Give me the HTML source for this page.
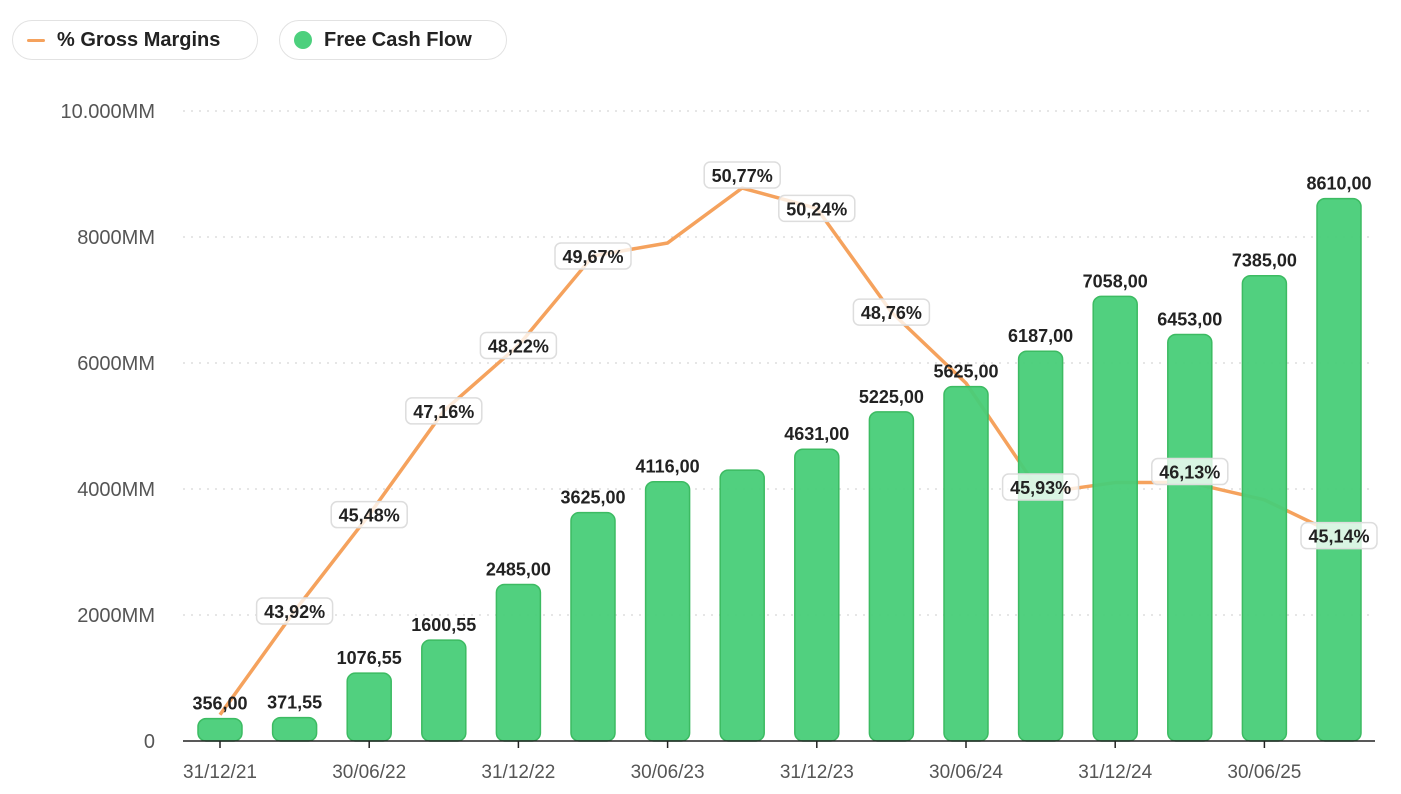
<!DOCTYPE html>
<html><head><meta charset="utf-8"><style>
body{margin:0;background:#fff;font-family:"Liberation Sans",Arial,sans-serif}
svg{display:block}
.legend{position:absolute;top:20px;height:40px;border:1.5px solid #e2e2e2;border-radius:20px;box-sizing:border-box;display:flex;align-items:center;font-weight:bold;font-size:20px;color:#222}
</style></head><body>
<div class="legend" style="left:12px;width:246px;padding-left:14px"><span style="display:inline-block;width:18px;height:3px;background:#f5a25d;border-radius:2px;margin-right:12px"></span>% Gross Margins</div>
<div class="legend" style="left:279px;width:228px;padding-left:14px"><span style="display:inline-block;width:18px;height:18px;background:#4cd07d;border-radius:50%;margin-right:12px"></span>Free Cash Flow</div>
<svg id="chart" width="1401" height="794" style="position:absolute;left:0;top:0"></svg>
<script>
const categories=["31/12/21","31/03/22","30/06/22","30/09/22","31/12/22","31/03/23","30/06/23","30/09/23","31/12/23","31/03/24","30/06/24","30/09/24","31/12/24","31/03/25","30/06/25","30/09/25"];
const xTickLabels=["31/12/21","","30/06/22","","31/12/22","","30/06/23","","31/12/23","","30/06/24","","31/12/24","","30/06/25",""];
const fcfValues=[356,371.55,1076.55,1600.55,2485,3625,4116,4300,4631,5225,5625,6187,7058,6453,7385,8610];
const fcfLabels=["356,00","371,55","1076,55","1600,55","2485,00","3625,00","4116,00","","4631,00","5225,00","5625,00","6187,00","7058,00","6453,00","7385,00","8610,00"];
const marginValues=[42.24,43.92,45.48,47.16,48.22,49.67,49.88,50.77,50.44,48.76,47.61,45.83,46.0,46.0,45.72,45.14];
const marginLabels=["","43,92%","45,48%","47,16%","48,22%","49,67%","","50,77%","50,24%","48,76%","","45,93%","","46,13%","","45,14%"];
const yTicks=[0,2000,4000,6000,8000,10000];
const yTickLabels=["0","2000MM","4000MM","6000MM","8000MM","10.000MM"];
const NS="http://www.w3.org/2000/svg";const svg=document.getElementById('chart');
function mk(t,a,p){const e=document.createElementNS(NS,t);for(const k in a)e.setAttribute(k,a[k]);(p||svg).appendChild(e);return e;}
const x=i=>220+i*74.6;
const y=v=>741-v*0.063;
const yp=p=>611-(p-43.92)*61.75;
yTicks.forEach((t,i)=>{
  if(t>0){const g=mk('line',{x1:183,x2:1375,y1:y(t),y2:y(t),stroke:'#ccc','stroke-dasharray':'2 6'});}
  const tx=mk('text',{x:155,y:y(t)+7,'text-anchor':'end','font-size':20,fill:'#555'});tx.textContent=yTickLabels[i];
  
});
let d=marginValues.map((p,i)=>(i?'L':'M')+x(i)+','+yp(p)).join(' ');
const ln=mk('path',{d:d,fill:'none',stroke:'#f5a25d','stroke-width':3.5,'stroke-linejoin':'round'});

fcfValues.forEach((v,i)=>{
  const r=mk('rect',{x:x(i)-22,y:y(v),width:44,height:741-y(v),rx:8,fill:'#48ce78',stroke:'#3cbb62','stroke-width':1.5,'fill-opacity':0.95});
  
});
marginLabels.forEach((l,i)=>{if(!l)return;
  let cy=yp(marginValues[i]);if(i===7)cy-=13;if(i===13)cy-=11;if(i===11)cy-=6;
  const g=mk('g',{});
  mk('rect',{x:x(i)-38,y:cy-13,width:76,height:26,rx:6,fill:'#fff','fill-opacity':0.78,stroke:'#ddd','stroke-width':1.5},g);
  const t=mk('text',{x:x(i),y:cy+7,'text-anchor':'middle','font-size':18,'font-weight':'bold',fill:'#222'},g);t.textContent=l;
});
fcfValues.forEach((v,i)=>{
  if(fcfLabels[i]){const t=mk('text',{x:x(i),y:y(v)-9,'text-anchor':'middle','font-size':18,'font-weight':'bold',fill:'#222'});t.textContent=fcfLabels[i];
  }
});
const ax=mk('line',{x1:183,x2:1375,y1:741,y2:741,stroke:'#222','stroke-width':1.5});

xTickLabels.forEach((l,i)=>{if(!l)return;
  const tk=mk('line',{x1:x(i),x2:x(i),y1:741,y2:748,stroke:'#222','stroke-width':1.5});
  
  const t=mk('text',{x:x(i),y:778,'text-anchor':'middle','font-size':19,fill:'#555'});t.textContent=l;
  
});
</script>
</body></html>
